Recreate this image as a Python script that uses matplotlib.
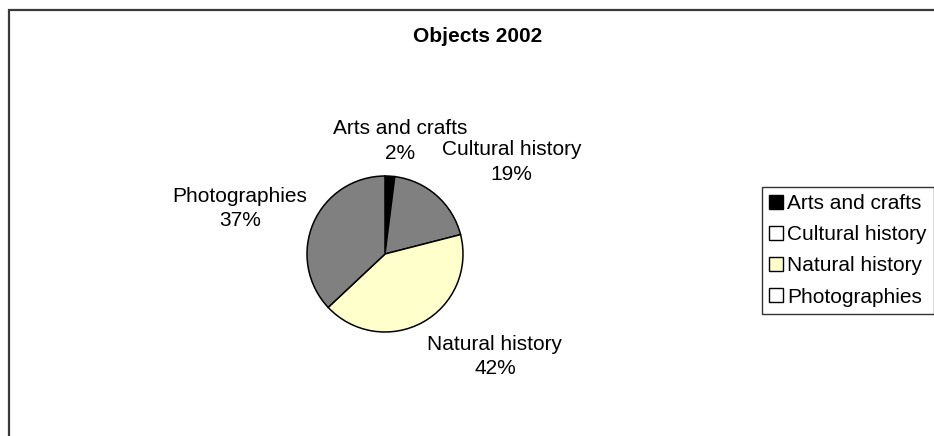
import matplotlib.pyplot as plt
from matplotlib.patches import Patch, Rectangle

plt.rcParams['font.family'] = ['Liberation Sans', 'DejaVu Sans']

# data
title = 'Objects 2002'
categories = ['Arts and crafts', 'Cultural history', 'Natural history', 'Photographies']
shares = [2, 19, 42, 37]
slice_colors = ['#000000', '#808080', '#FFFFCC', '#808080']
legend_colors = ['#000000', '#FFFFFF', '#FFFFCC', '#FFFFFF']

# layout (pixels, y measured from top)
W, H = 934, 436
cx, cy, r = 385, 254, 78
# label centres as offsets from the pie centre, in radii
label_off = [(0.19, 1.45), (1.62, 1.18), (1.41, -1.31), (-1.86, 0.58)]

fig = plt.figure(figsize=(W / 100, H / 100), dpi=100)
fig.patch.set_facecolor('white')
ax = fig.add_axes([0, 0, 1, 1])
ax.axis('off')

# chart border (runs off the right and bottom edges)
ax.add_patch(Rectangle((9, -20), W, H + 10, fill=False,
                       edgecolor='#3a3a3a', lw=1.6))

wedges, _ = ax.pie(shares, colors=slice_colors, startangle=90, counterclock=False,
                   center=(cx, H - cy), radius=r,
                   wedgeprops=dict(edgecolor='black', linewidth=1.1))
ax.set_xlim(0, W)
ax.set_ylim(0, H)
ax.set_aspect('equal')

for name, val, (dx, dy) in zip(categories, shares, label_off):
    ax.text(cx + dx * r, H - cy + dy * r, '%s\n%d%%' % (name, val),
            ha='center', va='center', fontsize=15, linespacing=1.35)

ax.text(478, H - 37, title, ha='center', va='center', fontsize=15, fontweight='bold')

handles = [Patch(facecolor=c, edgecolor='black', lw=1) for c in legend_colors]
leg = ax.legend(handles, categories, loc='upper left',
                bbox_to_anchor=(762 / W, 1 - 187 / H), bbox_transform=fig.transFigure,
                fontsize=15, frameon=True, fancybox=False, shadow=False,
                borderpad=0.35, labelspacing=0.58, handlelength=0.67,
                handleheight=0.67, handletextpad=0.2, borderaxespad=0)
leg.get_frame().set_edgecolor('black')
leg.get_frame().set_linewidth(1.0)

fig.savefig('out.png', dpi=100)
